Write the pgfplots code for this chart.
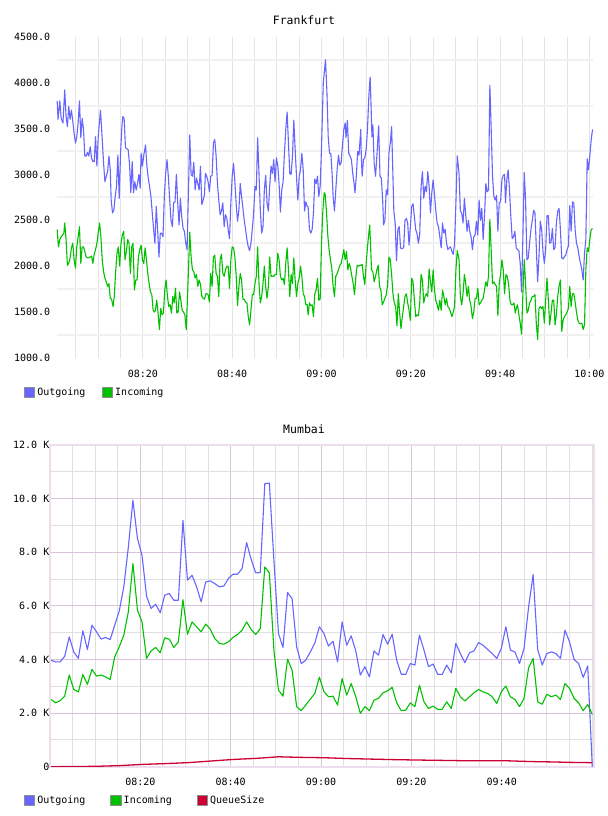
\documentclass[border=0pt]{standalone}
\usepackage{fontspec}
\setmainfont{DejaVu Sans Mono}
\usepackage{pgfplots}
\usepackage{pgfplotstable}
\pgfplotsset{compat=1.18}

\definecolor{outblue}{RGB}{102,102,255}
\definecolor{ingreen}{RGB}{0,192,0}
\definecolor{qred}{RGB}{204,0,51}
\definecolor{hgrid}{RGB}{241,241,241}
\definecolor{vgrid}{RGB}{228,228,228}
\definecolor{mgrid}{RGB}{218,196,218}
\definecolor{ngrid}{RGB}{224,224,224}
\definecolor{framec}{RGB}{236,222,236}

\newcommand{\lbl}{\fontsize{10bp}{12bp}\selectfont}
\newcommand{\ttl}{\fontsize{11.5bp}{13bp}\selectfont}

% Mumbai: one sample per minute (sample index i)
\pgfplotstableread{
i out in
0 3970 2510
1 3910 2380
2 3910 2460
3 4120 2630
4 4840 3420
5 4280 2880
6 4040 2790
7 5070 3440
8 4370 3070
9 5280 3630
10 5030 3380
11 4760 3420
12 4820 3350
13 4740 3250
14 5280 4100
15 5810 4470
16 6710 4910
17 8200 5780
18 9940 7580
19 8510 5840
20 7890 5400
21 6360 4040
22 5900 4320
23 6060 4450
24 5740 4250
25 6400 4810
26 6460 4760
27 6210 4450
28 6210 4660
29 9190 6230
30 6960 4940
31 7140 5400
32 6710 5220
33 6150 5030
34 6890 5320
35 6930 5130
36 6830 4780
37 6710 4600
38 6740 4570
39 7020 4660
40 7180 4820
41 7180 4930
42 7390 5090
43 8360 5400
44 7730 5120
45 7230 4930
46 7240 5150
47 10560 7450
48 10580 7230
49 7700 4350
50 4970 2860
51 4450 2630
52 6500 4010
53 6270 3600
54 4470 2240
55 3850 2090
56 3970 2300
57 4280 2520
58 4620 2730
59 5220 3340
60 4970 2800
61 4500 2610
62 4680 2630
63 3910 2300
64 5400 3290
65 4530 2670
66 4880 3100
67 4320 2610
68 3420 1990
69 3730 2240
70 3350 2090
71 4320 2480
72 4160 2550
73 4930 2760
74 4570 2830
75 4940 2960
76 3970 2380
77 3450 2090
78 3450 2110
79 3850 2380
80 3790 2240
81 4910 3040
82 4350 2420
83 3730 2170
84 3830 2260
85 3450 2140
86 3440 2140
87 3790 2420
88 3500 2170
89 4600 2920
90 4220 2610
91 3880 2450
92 4250 2610
93 4320 2760
94 4630 2880
95 4530 2790
96 4370 2730
97 4220 2610
98 4040 2360
99 4410 2790
100 5220 3010
101 4350 2610
102 4280 2510
103 3850 2240
104 4410 2550
105 5960 3690
106 7170 4040
107 4370 2420
108 3790 2330
109 4220 2700
110 4280 2610
111 4220 2670
112 4040 2510
113 5090 3100
114 4660 2920
115 4000 2550
116 3850 2380
117 3330 2090
118 3760 2320
119 0 1950
}\mumbai

\pgfplotstableread{
i q
0 0
5 5
10 15
15 40
20 85
25 115
30 150
35 210
40 270
45 310
48 345
50 370
52 360
55 348
60 335
65 305
70 285
75 265
80 250
85 238
90 225
95 222
100 222
103 205
106 190
110 178
114 162
119 150
}\mumbaiqueue

\begin{document}
\begin{tikzpicture}
\path[use as bounding box] (0,0) rectangle (608bp,816bp);

\node[font=\ttl] at (304bp,795.3bp) {Frankfurt};
\node[font=\ttl] at (304bp,386.7bp) {Mumbai};

% ---------------- Frankfurt (x in minutes after 08:00) ----------------
\begin{axis}[
  at={(56.7bp,458bp)}, anchor=south west,
  scale only axis, width=536.3bp, height=321.3bp,
  xmin=0.7, xmax=120.8, ymin=1000, ymax=4500,
  axis line style={draw=none},
  major tick length=0pt, minor tick length=0pt,
  xtick={20,40,60,80,100,120},
  xticklabels={08:20,08:40,09:00,09:20,09:40,10:00},
  minor xtick={5,10,...,120},
  xminorgrids, minor x grid style={draw=vgrid, line width=1bp},
  ytick={1000,1500,...,4500},
  minor ytick={1250,1750,...,4250},
  yminorgrids, minor y grid style={draw=hgrid, line width=2bp},
  scaled y ticks=false,
  yticklabel={\pgfmathprintnumber[fixed,fixed zerofill,precision=1,1000 sep={},assume math mode=true]{\tick}},
  tick label style={font=\lbl, text=black},
  yticklabel style={anchor=east, inner xsep=0pt, xshift=-6.3bp},
  xticklabel style={anchor=north, inner sep=0pt, yshift=-11.4bp},
  legend style={draw=none, fill=none, inner sep=0pt, outer sep=0pt,
    at={(-0.061,-0.1068)}, anchor=west, legend columns=-1, font=\lbl,
    /tikz/every even column/.append style={column sep=14.5bp}},
  legend image code/.code={\filldraw[#1, draw=black!45, line width=0.8bp] (0bp,-5bp) rectangle (10.5bp,5bp);},
]
\addplot[color=outblue, line width=1.1bp, line join=round, mark=none] coordinates {
(0.8,3800)(1.0,3600)(1.4,3800)(1.7,3610)(2.1,3560)(2.5,3920)(2.8,3630)(3.1,3520)(3.4,3740)(3.7,3600)
(4.0,3700)(4.3,3580)(4.6,3450)(4.9,3340)(5.2,3410)(5.5,3560)(5.8,3800)(6.1,3400)(6.4,3610)(6.7,3490)
(7.0,3200)(7.3,3200)(7.6,3240)(7.9,3200)(8.2,3300)(8.5,3180)(8.8,3140)(9.1,3140)(9.4,3410)(9.7,3090)
(10.0,3410)(10.3,3580)(10.5,3700)(10.9,3380)(11.2,3120)(11.5,2920)(11.8,2980)(12.1,3030)(12.4,3200)(12.7,3050)
(12.9,2720)(13.2,2580)(13.5,2610)(13.8,2760)(14.1,2870)(14.4,3210)(14.7,2740)(15.0,3230)(15.3,3520)(15.5,3630)
(15.8,3610)(16.1,3290)(16.4,3280)(16.7,3270)(17.0,3120)(17.3,2800)(17.6,3140)(17.9,2800)(18.2,2920)(18.5,2830)
(18.8,2900)(19.1,3000)(19.4,2850)(19.6,3230)(19.9,3090)(20.2,3210)(20.6,3320)(20.9,3090)(21.2,2960)(21.5,2870)
(21.8,2760)(22.1,2580)(22.4,2400)(22.7,2250)(23.0,2650)(23.3,2400)(23.6,2100)(23.9,2360)(24.2,2360)(24.5,2320)
(24.8,2760)(25.1,3010)(25.4,3160)(25.7,2980)(26.0,2720)(26.3,2500)(26.6,2430)(26.9,2690)(27.2,2700)(27.5,3000)
(27.8,2690)(28.1,2450)(28.4,2740)(28.7,2540)(29.0,2410)(29.3,2380)(29.6,2250)(29.9,2180)
(30.5,3430)(30.8,3000)(31.1,2980)(31.4,3130)(31.7,2830)(32.0,2960)(32.3,2900)(32.6,2830)(32.9,3090)(33.2,2670)
(33.5,2720)(33.8,2780)(34.0,3010)(34.3,2980)(34.6,2920)(34.9,2810)(35.2,2980)(35.5,2990)(35.8,3340)(36.1,3380)
(36.4,3200)(36.7,2900)(37.0,2720)(37.3,2560)(37.6,2600)(37.9,2690)(38.2,2430)(38.5,2560)(38.8,2520)(39.1,2400)
(39.4,2300)(39.7,2690)(40.0,2980)(40.3,3120)(40.6,2920)(40.9,2670)(41.2,2490)(41.5,2610)(41.8,2900)(42.1,2760)
(42.4,2630)(42.7,2500)(43.0,2400)(43.3,2290)(43.6,2210)(43.9,2170)(44.2,2250)(44.5,2400)(44.8,2580)(45.1,2870)
(45.4,2830)(45.7,3400)(46.0,3010)(46.3,2610)(46.6,2360)(46.9,2430)(47.2,2830)(47.5,2990)(47.8,2690)(48.1,2600)
(48.4,2870)(48.7,3090)(49.0,3010)(49.3,3160)(49.6,2920)(49.9,3180)(50.2,3100)(50.5,2900)(50.8,2590)(51.1,2830)
(51.4,2920)(51.7,3230)(52.0,3490)(52.3,3680)(52.6,3340)(52.9,3010)(53.2,3000)(53.5,3200)(53.8,3590)(54.1,3270)
(54.4,2980)(54.7,2720)(55.0,2980)(55.3,3050)(55.6,3230)(55.9,3050)(56.2,2600)(56.5,2700)(56.8,2650)(57.0,2650)
(57.3,2400)(57.6,2360)(57.9,2400)(58.2,2580)(58.5,2950)(58.8,2900)(59.1,2980)(59.4,2760)(59.7,2870)(60.0,3290)
(60.4,4000)(60.9,4250)(61.2,3920)(61.5,3410)(61.8,3230)(62.1,3225)(62.4,2980)(62.6,2760)(62.9,2600)(63.2,2830)
(63.5,3050)(63.8,3210)(64.1,3100)(64.4,3130)(64.7,3320)(65.0,3490)(65.3,3560)(65.5,3400)(65.8,3590)(66.1,3230)
(66.4,3200)(66.7,3160)(67.0,3010)(67.3,2900)(67.5,2800)(67.8,2980)(68.1,3250)(68.4,3210)(68.8,3490)(68.9,3230)
(69.1,2980)(69.4,3160)(69.7,3180)(70.0,3270)(70.3,3490)(70.6,3850)(70.9,4060)(71.1,3740)(71.3,3410)(71.5,3540)
(71.8,3120)(72.1,2980)(72.4,3200)(72.8,3530)(73.1,2980)(73.4,2960)(73.7,2720)(73.9,2450)(74.2,2500)(74.5,2830)
(74.8,2780)(75.1,3230)(75.4,3340)(75.7,3520)(76.0,2980)(76.2,2600)(76.5,2470)(76.8,2060)(77.1,2400)(77.4,2430)
(77.7,2200)(77.9,2190)(78.4,2200)(78.7,2500)(79.0,2520)(79.3,2470)(79.6,2230)(79.9,2430)(80.2,2650)(80.5,2680)
(80.8,2540)(81.1,2400)(81.4,2350)(81.7,2250)(82.0,2350)(82.3,2870)(82.6,3030)(82.9,2740)(83.2,2870)(83.5,2810)
(83.8,3030)(84.1,2870)(84.4,2580)(84.7,2800)(85.0,2940)(85.3,2780)(85.6,2600)(85.9,2470)(86.2,2430)(86.5,2320)
(86.8,2200)(87.1,2470)(87.4,2360)(87.7,2400)(88.0,2250)(88.3,2180)(88.6,2200)(88.9,2210)(89.2,2160)(89.5,2130)
(89.8,2250)(90.1,2690)(90.4,3200)(90.8,3010)(91.1,2600)(91.4,2580)(91.7,2470)(92.0,2740)(92.3,2560)(92.6,2380)
(92.9,2500)(93.2,2380)(93.5,2320)(93.8,2180)(94.1,2320)(94.4,2340)(94.7,2490)(95.0,2340)(95.3,2720)(95.6,2500)
(95.9,2630)(96.2,2290)(96.5,2540)(96.8,2900)(97.1,2810)(97.4,2830)(97.7,3970)(98.0,3490)(98.3,2980)(98.6,2760)
(98.9,2720)(99.2,2770)(99.5,2380)(99.8,2690)(100.1,2700)(100.4,2940)(100.7,2990)(101.0,3000)(101.2,2690)(101.5,2940)
(101.8,3050)(102.1,2830)(102.4,2540)(102.7,2300)(103.0,2320)(103.3,2380)(103.6,2200)(103.9,2180)(104.2,2170)(104.5,2030)
(104.8,1720)(105.1,2320)(105.4,3020)(105.7,2720)(106.0,2070)(106.3,2090)(106.6,2250)(106.9,2400)(107.2,2500)(107.5,2610)
(107.8,2580)(108.1,2210)(108.4,1830)(108.7,2100)(109.0,2490)(109.3,2400)(109.6,2160)(109.9,2030)(110.2,2180)(110.5,2550)
(110.8,2550)(111.1,2250)(111.4,2260)(111.7,2410)(112.0,2180)(112.3,2200)(112.6,2470)(112.9,2600)(113.2,2630)(113.5,2400)
(113.8,2090)(114.1,2080)(114.4,2105)(114.7,2120)(115.0,2180)(115.3,2220)(115.6,2660)(115.9,2380)(116.2,2700)(116.5,2690)
(116.8,2400)(117.1,2250)(117.4,2200)(117.7,2105)(118.0,2030)(118.3,1960)(118.6,1850)(118.9,2140)(119.2,2290)(119.5,3170)
(119.8,3050)(120.1,3210)(120.4,3380)(120.7,3490)
};
\addlegendentry{Outgoing}
\addplot[color=ingreen, line width=1.1bp, line join=round, mark=none] coordinates {
(0.8,2400)(1.1,2210)(1.4,2290)(1.7,2320)(2.0,2340)(2.3,2360)(2.5,2470)(2.8,2290)(3.1,2010)(3.4,2030)
(3.7,2090)(4.0,2200)(4.3,2250)(4.6,2070)(4.9,1980)(5.2,2210)(5.5,2320)(5.8,2430)(6.1,2030)(6.4,2210)
(6.7,2210)(7.0,2160)(7.3,2100)(7.6,2090)(7.9,2090)(8.2,2100)(8.5,2110)(8.8,2030)(9.1,2130)(9.4,2180)
(9.7,2250)(10.0,2360)(10.3,2470)(10.6,2320)(10.9,2070)(11.2,1940)(11.5,1870)(11.8,1830)(12.1,1780)(12.4,1810)
(12.7,1650)(13.0,1640)(13.3,1560)(13.6,1670)(13.9,1940)(14.2,2140)(14.5,2210)(14.8,2000)(15.1,2250)(15.4,2340)
(15.7,2380)(16.0,2070)(16.3,2160)(16.6,2290)(16.9,2250)(17.2,1920)(17.5,2210)(17.8,2250)(18.1,1740)(18.4,1850)
(18.7,1850)(19.0,2100)(19.3,2180)(19.6,2230)(19.9,2070)(20.2,2030)(20.5,2200)(20.8,2070)(21.1,1920)(21.4,1810)
(21.7,1720)(22.0,1690)(22.3,1520)(22.6,1500)(22.8,1520)(23.1,1630)(23.4,1490)(23.7,1310)(24.0,1540)(24.3,1470)
(24.6,1490)(24.9,1740)(25.2,1850)(25.5,1670)(25.8,1560)(26.1,1580)(26.4,1490)(26.7,1670)(27.0,1600)(27.3,1760)
(27.6,1490)(27.9,1500)(28.2,1720)(28.5,1630)(28.8,1520)(29.1,1500)(29.4,1470)(29.7,1310)(30.0,1670)(30.5,2370)
(30.8,2100)(31.1,1960)(31.4,1940)(31.7,1870)(32.0,1910)(32.3,1780)(32.6,1850)(32.9,1800)(33.2,1670)(33.5,1650)
(33.8,1640)(34.1,1700)(34.3,1700)(34.6,1690)(34.9,1610)(35.2,1920)(35.5,1780)(35.8,2100)(36.1,2120)(36.4,1920)
(36.7,1890)(37.0,1670)(37.3,2070)(37.6,2130)(37.9,1920)(38.2,1890)(38.5,1960)(38.8,2000)(39.1,2000)(39.4,1760)
(39.7,2070)(40.0,2210)(40.3,2200)(40.6,2100)(40.9,1890)(41.2,1570)(41.5,1780)(41.8,1920)(42.1,1850)(42.4,1640)
(42.7,1640)(43.0,1610)(43.3,1600)(43.6,1450)(43.9,1360)(44.2,1520)(44.5,1690)(44.8,1690)(45.1,1810)(45.4,1890)
(45.7,2210)(46.0,1810)(46.3,1600)(46.6,1670)(46.9,1810)(47.2,2000)(47.5,1780)(47.8,1650)(48.1,1780)(48.4,2100)
(48.7,1890)(49.0,1890)(49.3,1890)(49.6,1910)(49.9,1910)(50.2,2140)(50.5,2070)(50.8,1890)(51.1,1850)(51.4,1870)
(51.7,1800)(52.0,2030)(52.3,2200)(52.6,1960)(52.9,1670)(53.2,1910)(53.5,1810)(53.8,2090)(54.1,1850)(54.4,1670)
(54.7,1810)(55.0,1870)(55.3,2000)(55.6,1890)(55.9,1700)(56.2,1670)(56.5,1580)(56.8,1580)(57.0,1470)(57.3,1600)
(57.6,1570)(57.9,1580)(58.2,1450)(58.5,1700)(58.8,1740)(59.1,1870)(59.4,1630)(59.7,1640)(60.0,2250)(60.3,2600)
(60.6,2800)(60.8,2790)(61.1,2610)(61.4,2340)(61.7,2180)(62.0,2070)(62.3,1980)(62.6,1780)(62.9,1670)(63.2,1890)
(63.5,1920)(63.8,1960)(64.1,2010)(64.4,2030)(64.7,2100)(65.0,2180)(65.3,2070)(65.6,2160)(65.9,1960)(66.2,2030)
(66.5,1980)(66.8,1890)(67.1,1810)(67.4,1690)(67.7,1890)(68.0,2010)(68.3,2000)(68.6,2010)(68.8,2010)(69.1,2020)
(69.4,1890)(69.7,1800)(70.0,2030)(70.3,2210)(70.6,2360)(70.8,2450)(71.0,2210)(71.2,1960)(71.5,1940)(71.8,1830)
(72.1,1890)(72.4,1960)(72.7,2010)(73.0,1780)(73.3,1740)(73.6,1580)(73.9,1610)(74.2,1650)(74.5,1690)(74.8,1800)
(75.1,2100)(75.4,2070)(75.7,1910)(76.0,1700)(76.3,1600)(76.6,1560)(76.9,1350)(77.2,1700)(77.5,1490)(77.8,1320)
(78.1,1450)(78.4,1560)(78.7,1670)(79.0,1700)(79.3,1600)(79.6,1520)(79.9,1410)(80.2,1870)(80.5,1830)(80.8,1630)
(81.1,1450)(81.4,1470)(81.7,1460)(82.0,1600)(82.3,1910)(82.6,1850)(82.9,1600)(83.2,1670)(83.5,1700)(83.8,1670)
(84.1,1970)(84.4,1830)(84.7,1720)(85.0,1960)(85.3,1740)(85.6,1630)(85.9,1580)(86.2,1520)(86.5,1630)(86.8,1520)
(87.1,1740)(87.4,1670)(87.7,1580)(88.0,1650)(88.3,1560)(88.6,1540)(88.9,1500)(89.2,1450)(89.5,1500)(89.8,1560)
(90.1,1960)(90.4,2170)(90.8,2070)(91.1,1670)(91.4,1580)(91.7,1700)(92.0,1910)(92.3,1810)(92.6,1670)(92.9,1780)
(93.2,1630)(93.5,1560)(93.8,1430)(94.1,1500)(94.4,1650)(94.7,1650)(95.0,1760)(95.3,1580)(95.6,1600)(95.9,1630)
(96.2,1650)(96.5,1740)(96.8,1830)(97.1,1780)(97.4,1890)(97.7,2510)(98.0,2180)(98.3,1810)(98.6,1830)(98.9,1800)
(99.2,1780)(99.5,1460)(99.8,1810)(100.1,1910)(100.4,2070)(100.7,1960)(101.0,1700)(101.3,1910)(101.6,1890)(101.9,1800)
(102.2,1630)(102.5,1580)(102.8,1580)(103.1,1600)(103.4,1490)(103.6,1540)(103.9,1580)(104.2,1470)(104.5,1380)(104.8,1260)
(105.1,1700)(105.4,2070)(105.7,1810)(106.0,1490)(106.3,1520)(106.6,1600)(106.9,1630)(107.2,1670)(107.5,1670)(107.8,1690)
(108.1,1380)(108.4,1200)(108.7,1540)(109.0,1560)(109.3,1540)(109.6,1560)(109.9,1380)(110.2,1630)(110.5,1870)(110.8,1630)
(111.1,1360)(111.4,1490)(111.7,1630)(112.0,1630)(112.3,1360)(112.6,1470)(112.9,1670)(113.2,1780)(113.5,1850)(113.8,1290)
(114.1,1410)(114.4,1450)(114.7,1470)(115.0,1500)(115.3,1540)(115.6,1780)(115.9,1560)(116.2,1700)(116.5,1700)(116.8,1610)
(117.1,1500)(117.4,1410)(117.7,1380)(118.0,1370)(118.3,1380)(118.6,1310)(118.9,1360)(119.2,1960)(119.5,2200)(119.8,2160)
(120.1,2300)(120.4,2400)(120.7,2410)
};
\addlegendentry{Incoming}
\end{axis}

% ---------------- Mumbai (x in sample index) ----------------
\begin{axis}[
  at={(50bp,49.3bp)}, anchor=south west,
  scale only axis, width=544bp, height=321.7bp,
  xmin=-0.23, xmax=119.38, ymin=0, ymax=12000,
  axis line style={draw=framec, line width=1.6bp},
  major tick length=0pt, minor tick length=0pt,
  xtick={19.63,39.50,59.36,79.22,99.09},
  xticklabels={08:20,08:40,09:00,09:20,09:40},
  minor xtick={4.74,9.70,14.68,24.60,29.57,34.53,44.46,49.43,54.39,64.33,69.29,74.26,84.19,89.15,94.12,104.05,109.02,113.98,118.95},
  ytick={0,2000,...,12000},
  yticklabels={0,2.0 K,4.0 K,6.0 K,8.0 K,10.0 K,12.0 K},
  minor ytick={1000,3000,...,11000},
  scaled y ticks=false, scaled x ticks=false,
  xmajorgrids, xminorgrids, ymajorgrids, yminorgrids,
  major grid style={draw=mgrid, line width=0.9bp},
  minor grid style={draw=ngrid, line width=0.9bp},
  tick label style={font=\lbl, text=black},
  yticklabel style={anchor=east, inner xsep=0pt, xshift=-0.5bp},
  xticklabel style={anchor=north, inner sep=0pt, yshift=-11.4bp},
  legend style={draw=none, fill=none, inner sep=0pt, outer sep=0pt,
    at={(-0.0478,-0.1035)}, anchor=west, legend columns=-1, font=\lbl,
    /tikz/every even column/.append style={column sep=23bp}},
  legend image code/.code={\filldraw[#1, draw=black!45, line width=0.8bp] (0bp,-5bp) rectangle (10.5bp,5bp);},
]
\addplot[color=outblue, line width=1.1bp, line join=round, mark=none] table[x=i, y=out] {\mumbai};
\addlegendentry{Outgoing}
\addplot[color=ingreen, line width=1.1bp, line join=round, mark=none] table[x=i, y=in] {\mumbai};
\addlegendentry{Incoming}
\addplot[color=qred, line width=1.3bp, line join=round, mark=none] table[x=i, y=q] {\mumbaiqueue};
\addlegendentry{QueueSize}
\end{axis}
\end{tikzpicture}
\end{document}
